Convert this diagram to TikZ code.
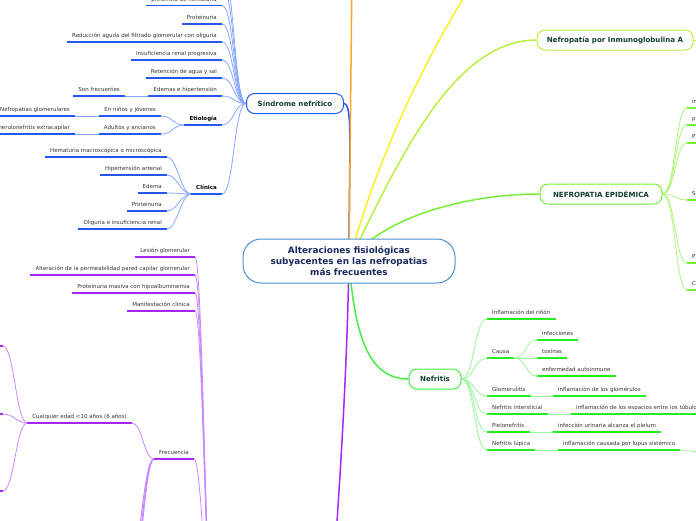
\documentclass[tikz,border=0pt]{standalone}
\usepackage{fontspec}
\setmainfont{DejaVu Sans}
\usetikzlibrary{backgrounds}
\definecolor{rootb}{HTML}{4A90D4}
\definecolor{roott}{HTML}{1B2A5E}
\definecolor{maint}{HTML}{12402F}
\definecolor{bmain}{HTML}{2458F0}
\definecolor{bline}{HTML}{85A5FF}
\definecolor{bul}{HTML}{2458F0}
\definecolor{pline}{HTML}{C888FF}
\definecolor{pul}{HTML}{A526FF}
\definecolor{orng}{HTML}{FFA52A}
\definecolor{yel}{HTML}{FFEE22}
\definecolor{ygr}{HTML}{B8F040}
\definecolor{gep}{HTML}{77EE33}
\definecolor{gepl}{HTML}{AAF57A}
\definecolor{gnf}{HTML}{44EE44}
\definecolor{gul}{HTML}{22EE22}
\definecolor{gline}{HTML}{99F599}
\definecolor{txt}{HTML}{333333}
\tikzset{
  lbl/.style={font=\fontsize{5.5}{6}\selectfont, text=txt, inner xsep=5pt, inner ysep=2.5pt, text height=4pt, text depth=1.5pt},
  blf/.style={lbl, anchor=south east, append after command={(\tikzlastnode.south west) edge[draw=bul, line width=1.7pt] (\tikzlastnode.south east)}},
  blfb/.style={blf, font=\fontsize{5.5}{6}\selectfont\bfseries, text=black},
  plf/.style={lbl, anchor=south east, append after command={(\tikzlastnode.south west) edge[draw=pul, line width=1.7pt] (\tikzlastnode.south east)}},
  glf/.style={lbl, anchor=south west, append after command={(\tikzlastnode.south west) edge[draw=gul, line width=1.7pt] (\tikzlastnode.south east)}},
  elf/.style={lbl, anchor=south west, text width=20pt, align=left, append after command={(\tikzlastnode.south west) edge[draw=gep, line width=1.7pt] (\tikzlastnode.south east)}},
  root/.style={draw=rootb, line width=1pt, rounded corners=18pt, fill=white, minimum width=212pt, minimum height=44pt, align=center, font=\fontsize{8.9}{11}\selectfont\bfseries, text=roott},
  mnode/.style={rounded corners=8pt, line width=1pt, fill=white, minimum height=20pt, inner sep=0pt, font=\fontsize{7.1}{8}\selectfont\bfseries, text=maint},
  mainc/.style={line width=1.5pt},
  bthin/.style={draw=bline, line width=0.8pt},
  pthin/.style={draw=pline, line width=0.8pt},
  gthin/.style={draw=gline, line width=0.8pt},
  ethin/.style={draw=gepl, line width=0.8pt},
}
\begin{document}
\begin{tikzpicture}[x=1pt,y=-1pt]
\useasboundingbox (0,0) rectangle (696,520);
\clip (0,0) rectangle (696,520);
% main nodes
\node[root] (root) at (349,261) {Alteraciones fisiológicas\\subyacentes en las nefropatias\\más frecuentes};
\node[mnode, draw=bmain, minimum width=97pt] (sn) at (295,103.5) {Síndrome nefrítico};
\node[mnode, draw=ygr, minimum width=156pt] (iga) at (615,40) {Nefropatía por Inmunoglobulina A};
\node[mnode, draw=gep, minimum width=122pt] (ne) at (601,194) {NEFROPATIA EPIDÉMICA};
\node[mnode, draw=gnf, minimum width=52pt] (nf) at (435,379) {Nefritis};
% off-picture ends
\coordinate (orgend) at (352,-30);
\coordinate (yelend) at (520,-90);
\coordinate (pmn) at (326,680);
\coordinate (pw) at (214,640);
\coordinate (ba1) at (222,-14);
\coordinate (ba2) at (222,-32);
\coordinate (igae) at (700,40);
\coordinate (n6e) at (700,452);
\coordinate (f1) at (130,560);
\coordinate (f2) at (128,600);
\coordinate (f3) at (126,640);
\coordinate (cq1) at (3,346);
\coordinate (cq2) at (3,414);
\coordinate (cq3) at (3,491);
\coordinate (cq1s) at (-6,346);
\coordinate (cq2s) at (-6,414);
\coordinate (cq3s) at (-6,491);
% blue leaves
\node[blf] (b0) at (222,5.5) {presencia de hematuria};
\node[blf] (b1) at (222,24) {Proteinuria};
\node[blf] (b2) at (222,42) {Reducción aguda del filtrado glomerular con oliguria};
\node[blf] (b3) at (222,60) {Insuficiencia renal progresiva};
\node[blf] (b4) at (222,78) {Retención de agua y sal};
\node[blf] (b5) at (222,96) {Edemas e hipertensión};
\node[blf] (b5a) at (125,96) {Son frecuentes};
\node[blfb] (b6) at (222,125) {Etiología};
\node[blf] (b6a) at (161,116) {En niños y jóvenes};
\node[blf] (b6a1) at (75,116) {Nefropatías glomerulares};
\node[blf] (b6b) at (161,134) {Adultos y ancianos};
\node[blf] (b6b1) at (75,134) {Glomerulonefritis extracapilar};
\node[blfb] (b7) at (222,194) {Clínica};
\node[blf] (b7a) at (167,157) {Hematuria macroscópica o microscópica};
\node[blf] (b7b) at (167,175) {Hipertensión arterial};
\node[blf] (b7c) at (167,193) {Edema};
\node[blf] (b7d) at (167,211) {Proteinuria};
\node[blf] (b7e) at (167,229) {Oliguria e insuficiencia renal};
% purple leaves
\node[plf] (p1) at (195,257) {Lesión glomerular};
\node[plf] (p2) at (195,275) {Alteración de la permeabilidad pared capilar glomerular};
\node[plf] (p3) at (195,293) {Proteinuria masiva con hipoalbuminemia};
\node[plf] (p4) at (195,311) {Manifestación clínica};
\node[plf] (p5) at (194,459) {Frecuencia};
\node[plf] (p5a) at (132,423) {Cualquier edad <10 años (6 años)};
% nefritis leaves
\node[glf] (n1) at (487,319) {Inflamación del riñón};
\node[glf] (n2) at (487,358) {Causa};
\node[glf] (n2a) at (537,340) {infecciones};
\node[glf] (n2b) at (537,358) {toxinas};
\node[glf] (n2c) at (537,376) {enfermedad autoinmune};
\node[glf] (n3) at (487,396) {Glomerulitis};
\node[glf] (n3a) at (553,396) {inflamación de los glomérulos};
\node[glf] (n4) at (487,414) {Nefritis intersticial};
\node[glf] (n4a) at (571,414) {inflamación de los espacios entre los túbulo};
\node[glf] (n5) at (487,432) {Pielonefritis};
\node[glf] (n5a) at (553,432) {infección urinaria alcanza el pielum};
\node[glf] (n6) at (487,450) {Nefritis lúpica};
\node[glf] (n6a) at (558,450) {inflamación causada por lupus sistémico};
% epidemica leaves
\node[elf] (e1) at (687,108) {in};
\node[elf] (e2) at (687,125) {p};
\node[elf] (e3) at (687,143) {P};
\node[elf] (e4) at (687,200) {S};
\node[elf] (e5) at (687,263) {P};
\node[elf] (e6) at (687,290) {C};
\begin{pgfonlayer}{background}
% main connectors
\draw[mainc, draw=bmain] (root.center) .. controls (349,150) and (353,104) .. (sn.east);
\draw[mainc, draw=orng] (root.center) -- (orgend);
\draw[mainc, draw=yel] (root.center) .. controls (380,150) and (430,40) .. (yelend);
\draw[mainc, draw=ygr] (root.center) .. controls (395,170) and (450,40) .. (iga.west);
\draw[mainc, draw=gep] (root.center) .. controls (385,215) and (470,194) .. (ne.west);
\draw[mainc, draw=gnf] (root.center) .. controls (355,340) and (370,379) .. (nf.west);
\draw[mainc, draw=pul] (root.center) .. controls (346,420) and (334,560) .. (pmn);
\draw[line width=1pt, draw=ygr] (iga.east) -- (igae);
% blue
\foreach \n in {b0,b1,b2,b3,b4,b5,b6,b7}
  \draw[bthin] (\n.south east) .. controls +(12,0) and +(-12,0) .. (sn.west);
\draw[bthin] (ba1) .. controls +(12,0) and +(-12,0) .. (sn.west);
\draw[bthin] (ba2) .. controls +(12,0) and +(-12,0) .. (sn.west);
\draw[bthin] (b5a.south east) -- (b5.south west);
\draw[bthin] (b6a.south east) .. controls +(12,0) and +(-12,0) .. (b6.south west);
\draw[bthin] (b6b.south east) .. controls +(12,0) and +(-12,0) .. (b6.south west);
\draw[bthin] (b6a1.south east) -- (b6a.south west);
\draw[bthin] (b6b1.south east) -- (b6b.south west);
\foreach \n in {b7a,b7b,b7c,b7d,b7e}
  \draw[bthin] (\n.south east) .. controls +(10,0) and +(-10,0) .. (b7.south west);
% purple
\foreach \n in {p1,p2,p3,p4,p5}
  \draw[pthin] (\n.south east) .. controls +(8,0) and +(-8,0) .. (pw);
\draw[pthin] (p5a.south east) .. controls +(10,0) and +(-10,0) .. (p5.south west);
\foreach \n in {f1,f2,f3}
  \draw[pthin, line width=1pt] (\n) .. controls +(11,0) and +(-11,0) .. (p5.south west);
\foreach \n in {cq1,cq2,cq3}
  \draw[pthin] (\n) .. controls +(11,0) and +(-11,0) .. (p5a.south west);
\draw[draw=pul, line width=1.7pt] (cq1s) -- (cq1);
\draw[draw=pul, line width=1.7pt] (cq2s) -- (cq2);
\draw[draw=pul, line width=1.7pt] (cq3s) -- (cq3);
% nefritis
\foreach \n in {n1,n2,n3,n4,n5,n6}
  \draw[gthin] (nf.east) .. controls +(13,0) and +(-13,0) .. (\n.south west);
\foreach \n in {n2a,n2b,n2c}
  \draw[gthin] (n2.south east) .. controls +(12,0) and +(-12,0) .. (\n.south west);
\draw[gthin] (n3.south east) -- (n3a.south west);
\draw[gthin] (n4.south east) -- (n4a.south west);
\draw[gthin] (n5.south east) -- (n5a.south west);
\draw[gthin] (n6.south east) -- (n6a.south west);
\draw[gthin] (n6a.south east) -- (n6e);
% epidemica
\foreach \n in {e1,e2,e3,e4,e5,e6}
  \draw[ethin] (ne.east) .. controls +(13,0) and +(-12,0) .. (\n.south west);
\end{pgfonlayer}
\end{tikzpicture}
\end{document}
